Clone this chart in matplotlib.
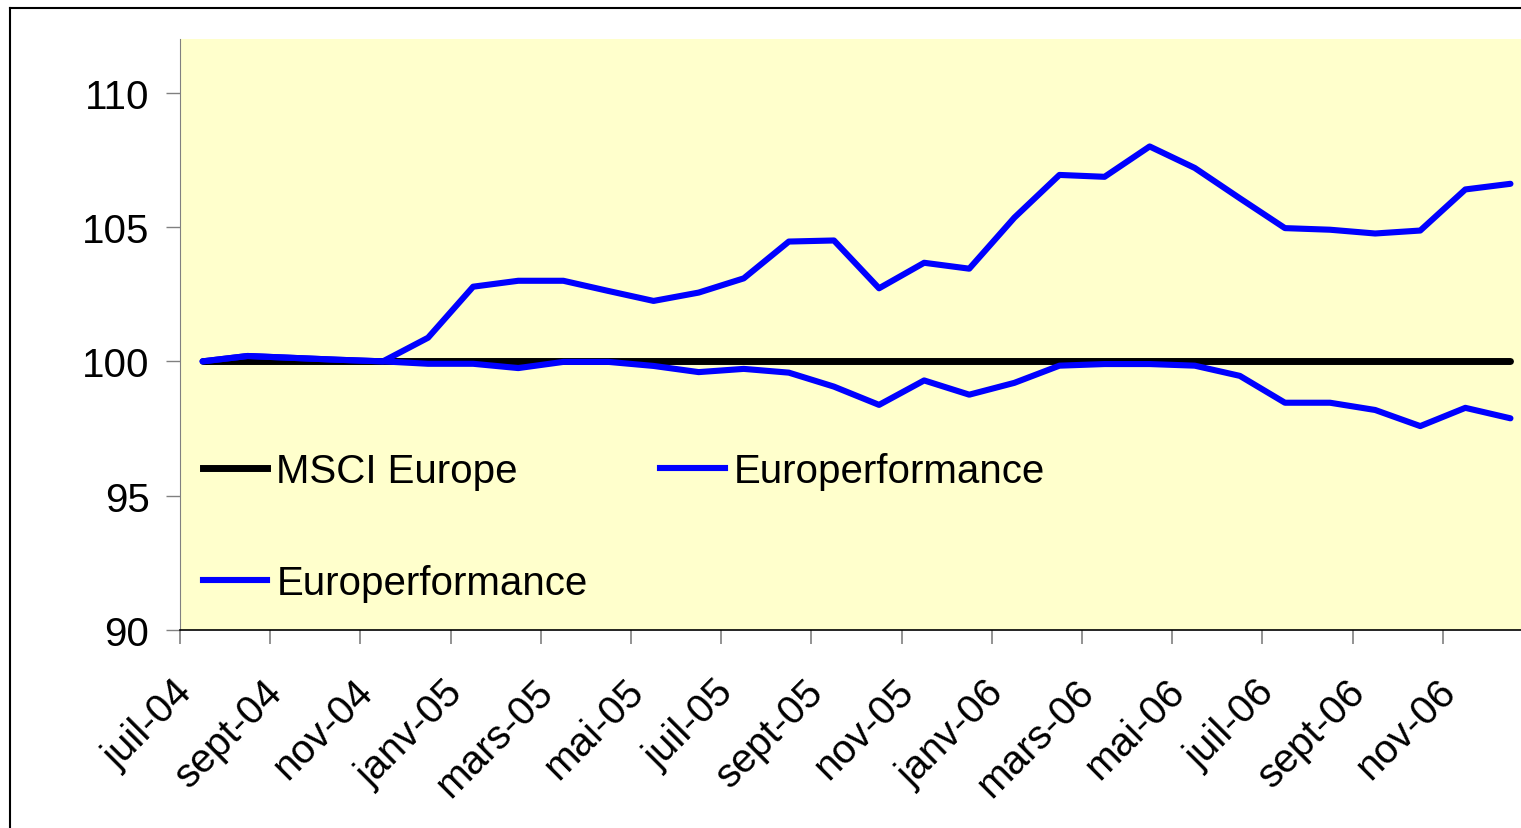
import numpy as np
import matplotlib
matplotlib.use("Agg")
from matplotlib import pyplot as plt
from matplotlib.lines import Line2D
from matplotlib import transforms

# monthly points, juil-04 .. déc-06
months = ["juil-04", "août-04", "sept-04", "oct-04", "nov-04", "déc-04",
          "janv-05", "févr-05", "mars-05", "avr-05", "mai-05", "juin-05",
          "juil-05", "août-05", "sept-05", "oct-05", "nov-05", "déc-05",
          "janv-06", "févr-06", "mars-06", "avr-06", "mai-06", "juin-06",
          "juil-06", "août-06", "sept-06", "oct-06", "nov-06", "déc-06"]

msci_europe = [100.0] * 30

europerf_high = [100.0, 100.2, 100.13, 100.06, 100.0, 100.88, 102.78, 103.0,
                 103.0, 102.62, 102.25, 102.56, 103.09, 104.46, 104.5, 102.72,
                 103.67, 103.45, 105.35, 106.94, 106.87, 108.0, 107.2, 106.07,
                 104.96, 104.9, 104.76, 104.87, 106.4, 106.61]

europerf_low = [100.0, 100.2, 100.13, 100.06, 100.0, 99.91, 99.91, 99.75,
                99.98, 99.98, 99.83, 99.6, 99.72, 99.58, 99.06, 98.38,
                99.29, 98.76, 99.2, 99.84, 99.9, 99.9, 99.84, 99.46,
                98.46, 98.46, 98.19, 97.59, 98.27, 97.88]

tick_labels = months[::2]

FS = 29
plt.rcParams.update({
    'font.family': ['Liberation Sans', 'DejaVu Sans'],
    'font.size': FS,
})

fig = plt.figure(figsize=(15.21, 8.29), dpi=100)
# plot area runs a little past the right edge of the picture
ax = fig.add_axes([180 / 1521, (829 - 631) / 829, (1533 - 180) / 1521, (631 - 40) / 829])
ax.set_facecolor('#FFFFCC')

x = np.arange(len(months))
ax.plot(x, msci_europe, color='black', lw=5, solid_capstyle='round', zorder=3)
ax.plot(x, europerf_high, color='#0000FF', lw=4.4, solid_capstyle='round', zorder=4)
ax.plot(x, europerf_low, color='#0000FF', lw=4.4, solid_capstyle='round', zorder=4)

ax.set_xlim(-0.5, len(months) - 0.5)
ax.set_ylim(90, 112)
ax.set_yticks([90, 95, 100, 105, 110])
ax.tick_params(axis='y', direction='out', length=10, width=1, color='#808080',
               pad=12, labelsize=FS)

# tick marks between categories, labels on the labelled months
ax.set_xticks(np.arange(-0.5, len(months) - 1, 2))
ax.set_xticklabels([])
ax.tick_params(axis='x', which='major', direction='out', length=10, width=1.2,
               color='#808080')
ax.set_xticks(x[::2], minor=True)
ax.set_xticklabels(tick_labels, minor=True)
ax.tick_params(axis='x', which='minor', length=0, pad=40, labelsize=FS)
shift = transforms.ScaledTranslation(-16 / 100, 0, fig.dpi_scale_trans)
for lab in ax.get_xticklabels(minor=True):
    lab.set_rotation(45)
    lab.set_rotation_mode('anchor')
    lab.set_ha('right')
    lab.set_va('center')
    lab.set_transform(lab.get_transform() + shift)

for side in ['top', 'right']:
    ax.spines[side].set_visible(False)
ax.spines['left'].set_color('#808080')
ax.spines['bottom'].set_color('black')
ax.spines['bottom'].set_linewidth(1.2)

handles = [Line2D([], [], color='black', lw=5),
           Line2D([], [], color='#0000FF', lw=4.4),
           Line2D([], [], color='#0000FF', lw=4.4)]
labels = ['MSCI Europe', 'Europerformance', 'Europerformance']
ax.legend(handles, labels, ncol=2, loc='upper left',
          bbox_to_anchor=(23 / 1353, (631 - 453) / 591), frameon=False,
          borderaxespad=0, borderpad=0, handlelength=1.6, handletextpad=0.22,
          labelspacing=1.84, columnspacing=1.8, fontsize=FS)

# outer chart frame (top and left edges visible)
fig.add_artist(Line2D([10 / 1521, 1.0], [1 - 9 / 829] * 2, color='black', lw=1.5))
fig.add_artist(Line2D([10 / 1521] * 2, [0, 1 - 9 / 829], color='black', lw=1.5))

plt.savefig('out.png', dpi=100)
plt.close()
